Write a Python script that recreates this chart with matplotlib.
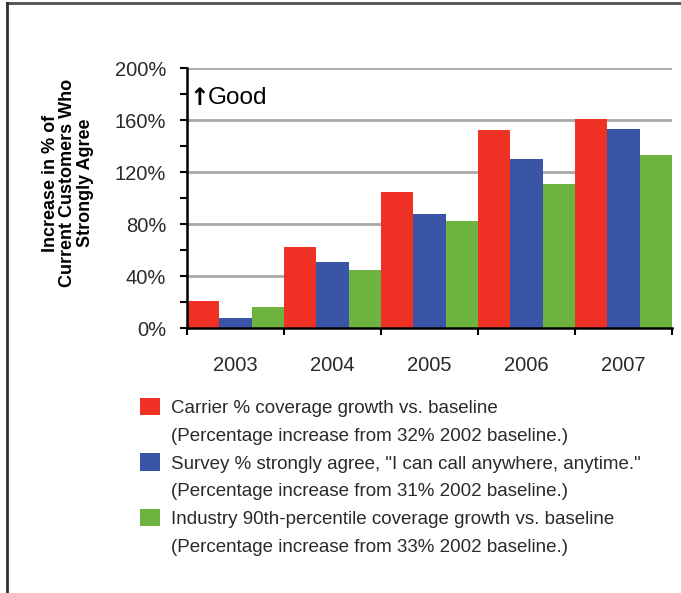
import matplotlib
matplotlib.use("Agg")
import matplotlib.pyplot as plt
import numpy as np
from matplotlib.patches import Patch
from matplotlib.lines import Line2D
from matplotlib.ticker import MultipleLocator, FixedLocator

years = ["2003", "2004", "2005", "2006", "2007"]
carrier = [21, 62, 105, 152, 161]
survey = [8, 51, 88, 130, 153]
industry = [16, 45, 82, 111, 133]
series_names = [
    "Carrier % coverage growth vs. baseline",
    "Survey % strongly agree, \"I can call anywhere, anytime.\"",
    "Industry 90th-percentile coverage growth vs. baseline",
]
series_notes = [
    "(Percentage increase from 32% 2002 baseline.)",
    "(Percentage increase from 31% 2002 baseline.)",
    "(Percentage increase from 33% 2002 baseline.)",
]
y_ticks = [0, 40, 80, 120, 160, 200]
y_ticklabels = ["0%", "40%", "80%", "120%", "160%", "200%"]

colors = ["#ee3124", "#3a55a6", "#6db33f"]
FONT = ["Liberation Sans", "DejaVu Sans"]
plt.rcParams["font.family"] = FONT

W, H = 681, 593
fig = plt.figure(figsize=(W / 100, H / 100), dpi=100)
fig.patch.set_facecolor("white")

ax = fig.add_axes([187 / W, 1 - 328 / H, (672 - 187) / W, (328 - 68) / H])
x = np.arange(len(years))
bw = 1 / 3
for i, (vals, c) in enumerate(zip([carrier, survey, industry], colors)):
    ax.bar(x + (i - 1) * bw, vals, width=bw, color=c, zorder=2, linewidth=0)

ax.set_xlim(-0.5, len(years) - 0.5)
ax.set_ylim(0, 200)
ax.set_yticks(y_ticks)
ax.set_yticklabels(y_ticklabels, fontsize=14.5, color="#2a2a2a")
ax.yaxis.set_minor_locator(MultipleLocator(20))
ax.set_xticks(x)
ax.set_xticklabels(years, fontsize=14.5, color="#2a2a2a")
ax.xaxis.set_minor_locator(FixedLocator(np.arange(-0.5, len(years), 1.0)))
ax.tick_params(axis="x", which="major", length=0, pad=20)
ax.tick_params(axis="x", which="minor", length=5, width=1.5, direction="out", color="black")
ax.tick_params(axis="y", which="both", length=5, width=1.5, direction="out", color="black", pad=10)

for y in y_ticks[1:]:
    ax.axhline(y, color="#a8a8a8", linewidth=2, zorder=1)

for s in ["top", "right"]:
    ax.spines[s].set_visible(False)
ax.spines["left"].set_linewidth(1.8)
ax.spines["bottom"].set_linewidth(1.8)
ax.spines["left"].set_zorder(3)
ax.spines["bottom"].set_zorder(3)

ax.text(0.005, 0.885, "\u2191", transform=ax.transAxes, fontsize=17,
        ha="left", va="center", color="black", fontweight="bold",
        family=["DejaVu Sans"])
ax.text(0.042, 0.885, "Good", transform=ax.transAxes, fontsize=17.5,
        ha="left", va="center", color="black", family=FONT)

fig.text(68 / W, 1 - 183 / H, "Increase in % of\nCurrent Customers Who\nStrongly Agree",
         rotation=90, ha="center", va="center", multialignment="center",
         fontsize=13, fontweight="bold", linespacing=1.0, color="black", family=FONT)

handles, labels = [], []
for c, name, note in zip(colors, series_names, series_notes):
    handles.append(Patch(facecolor=c, edgecolor="none"))
    labels.append(name)
    handles.append(Patch(facecolor="none", edgecolor="none"))
    labels.append(note)
leg = fig.legend(handles, labels, loc="upper left",
                 bbox_to_anchor=(140 / W, 1 - 398 / H),
                 frameon=False, fontsize=13.5, handlelength=1.05, handleheight=1.05,
                 handletextpad=0.6, labelspacing=0.46, borderpad=0, borderaxespad=0)
for t in leg.get_texts():
    t.set_color("#2a2a2a")

# partial frame (top and left)
fig.add_artist(Line2D([7 / W, 1], [1 - 3 / H, 1 - 3 / H], transform=fig.transFigure,
                      color="#505050", linewidth=2))
fig.add_artist(Line2D([7 / W, 7 / W], [0, 1 - 3 / H], transform=fig.transFigure,
                      color="#303030", linewidth=2))

fig.savefig("out.png", dpi=100)
